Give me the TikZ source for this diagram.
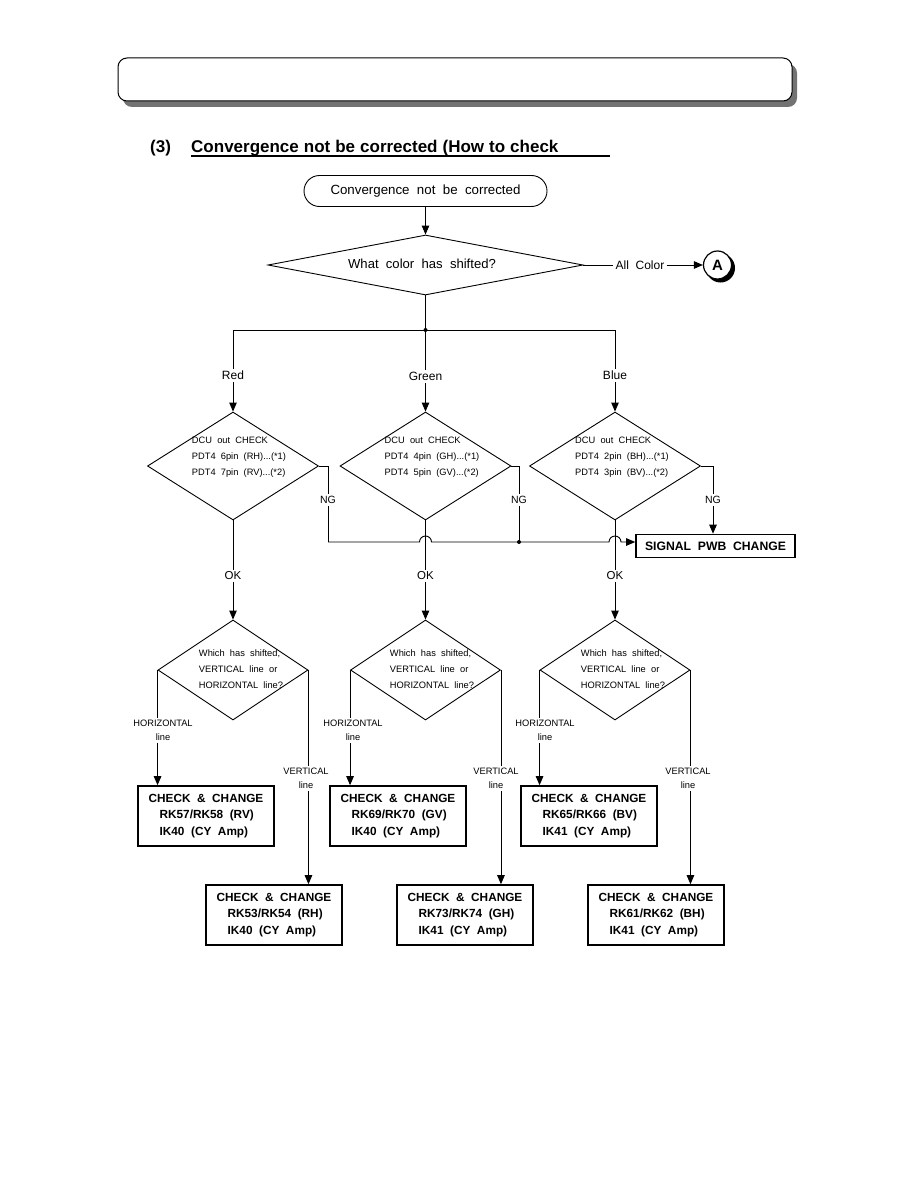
\documentclass[tikz,border=0pt]{standalone}
\usepackage{fontspec}
\setmainfont{Liberation Sans}[WordSpace=2]
\usetikzlibrary{arrows.meta,shapes.geometric}
\begin{document}
\begin{tikzpicture}[x=1pt,y=-1pt,
  ln/.style={line width=0.9pt},
  arr/.style={ln,-{Triangle[length=9pt,width=7.5pt]}},
  dia/.style={diamond,draw,ln,inner sep=0pt},
  dtext/.style={font=\fontsize{9.3}{16}\selectfont,align=left,inner sep=0pt},
  lbl/.style={font=\fontsize{12}{14}\selectfont,inner sep=2pt},
  nglbl/.style={font=\fontsize{10.5}{12}\selectfont,inner sep=2pt},
  oklbl/.style={font=\fontsize{11.5}{12}\selectfont,inner sep=2pt},
  sl/.style={font=\fontsize{9.3}{14}\selectfont,align=center,inner sep=2pt},
  chk/.style={draw,line width=1.6pt,minimum width=136pt,minimum height=60pt,
    font=\fontsize{11.8}{16.5}\selectfont\bfseries,align=left,inner sep=0pt}]
\useasboundingbox (0,0) rectangle (918,1188);
\fill[white] (0,0) rectangle (918,1188);

% header
\fill[black!55,rounded corners=9] (123,64) rectangle (797,107);
\draw[fill=white,line width=1pt,rounded corners=9] (118,58) rectangle (792,101);

% title
\node[anchor=base west,inner sep=0pt,font=\fontsize{17}{18}\selectfont\bfseries] (tnum) at (150,152) {(3)};
\node[anchor=base west,inner sep=0pt,font=\fontsize{17}{18}\selectfont\bfseries] (title) at (191,152) {\spaceskip 5pt\relax Convergence not be corrected (How to check};
\coordinate (ul1) at (191,156);
\coordinate (ul2) at (610,156);
\draw[line width=1.1pt] (ul1) -- (ul2);

% start
\node[draw,ln,rounded corners=15.5,minimum width=243,minimum height=31,inner sep=0pt,
  font=\fontsize{13.3}{16}\selectfont] (term) at (425.5,191) {Convergence not be corrected};
\node[dia,minimum width=315,minimum height=60] (q) at (425.5,265) {};
\node[font=\fontsize{13.1}{16}\selectfont,inner sep=0pt] (qt) at (422,264) {What color has shifted?};
\draw[arr] (term) -- (q);
\node[lbl] (all) at (640,265) {All Color};
\fill (720.5,268) circle (14.5);
\node[circle,draw,line width=1.2pt,fill=white,minimum size=28,inner sep=0pt,
  font=\fontsize{15}{16}\selectfont\bfseries] (A) at (717.5,265) {A};
\draw[ln] (q.east) -- (all.west);
\draw[arr] (all.east) -- (A.west);

% branch
\coordinate (j) at (425.5,330);
\node[lbl] (red) at (233,375.5) {Red};
\node[lbl] (green) at (425.5,376.5) {Green};
\node[lbl] (blue) at (615,375.5) {Blue};
\draw[ln] (q.south) -- (j);
\draw[ln] (j) -| (red.north);
\draw[ln] (j) -- (green.north);
\draw[ln] (j) -| (blue.north);
\fill (j) circle (2);

% first diamonds
\node[dia,minimum width=171,minimum height=108] (dr) at (233,466) {};
\node[dia,minimum width=171,minimum height=108] (dg) at (425.5,466) {};
\node[dia,minimum width=171,minimum height=108] (db) at (615,466) {};
\draw[arr] (red) -- (dr.north);
\draw[arr] (green) -- (dg.north);
\draw[arr] (blue) -- (db.north);
\node[dtext] (drt) at (239,457) {DCU out CHECK\\PDT4 6pin (RH)...(*1)\\PDT4 7pin (RV)...(*2)};
\node[dtext] (dgt) at (432,457) {DCU out CHECK\\PDT4 4pin (GH)...(*1)\\PDT4 5pin (GV)...(*2)};
\node[dtext] (dbt) at (622,457) {DCU out CHECK\\PDT4 2pin (BH)...(*1)\\PDT4 3pin (BV)...(*2)};

% NG paths
\node[draw,line width=1.6pt,minimum width=159,minimum height=23,inner sep=0pt,
  font=\fontsize{12.2}{14}\selectfont\bfseries] (sig) at (715.5,546) {SIGNAL PWB CHANGE};
\node[nglbl] (ngr) at (328,500) {NG};
\node[nglbl] (ngg) at (519,500) {NG};
\node[nglbl] (ngb) at (713,500) {NG};
\coordinate (cr) at (328,542);
\coordinate (cg) at (519,542);
\draw[ln] (dr.east) -| (ngr.north);
\draw[ln] (ngr.south) -- (cr);
\draw[ln] (dg.east) -| (ngg.north);
\draw[ln] (ngg.south) -- (cg);
\fill (cg) circle (2);
\draw[ln] (db.east) -| (ngb.north);
\draw[arr] (ngb.south) -- (ngb.south |- sig.north);
\draw[arr] (cr) -- ([xshift=-6pt]dg.south |- cr) arc[start angle=180,end angle=360,radius=6]
  -- ([xshift=-6pt]db.south |- cr) arc[start angle=180,end angle=360,radius=6]
  -- (sig.west |- cr);

% OK
\node[oklbl] (okr) at (233,576) {OK};
\node[oklbl] (okg) at (425.5,576) {OK};
\node[oklbl] (okb) at (615,576) {OK};
\draw[ln] (dr.south) -- (okr);
\draw[ln] (dg.south) -- (okg);
\draw[ln] (db.south) -- (okb);

% second diamonds
\node[dia,minimum width=150,minimum height=100] (dr2) at (233,670) {};
\node[dia,minimum width=150,minimum height=100] (dg2) at (425.5,670) {};
\node[dia,minimum width=150,minimum height=100] (db2) at (615,670) {};
\draw[arr] (okr) -- (dr2.north);
\draw[arr] (okg) -- (dg2.north);
\draw[arr] (okb) -- (db2.north);
\node[dtext] (dr2t) at (241,669) {Which has shifted,\\VERTICAL line or\\HORIZONTAL line?};
\node[dtext] (dg2t) at (432,669) {Which has shifted,\\VERTICAL line or\\HORIZONTAL line?};
\node[dtext] (db2t) at (623,669) {Which has shifted,\\VERTICAL line or\\HORIZONTAL line?};

% labels
\node[sl] (hr) at (163,730) {HORIZONTAL\\line};
\node[sl] (hg) at (353,730) {HORIZONTAL\\line};
\node[sl] (hb) at (545,730) {HORIZONTAL\\line};
\node[sl] (vr) at (306,778.5) {VERTICAL\\line};
\node[sl] (vg) at (496,778.5) {VERTICAL\\line};
\node[sl] (vb) at (688,778.5) {VERTICAL\\line};

% boxes
\node[chk] (b1r) at (206,816) {CHECK \& CHANGE\\\hspace*{11pt}RK57/RK58 (RV)\\\hspace*{11pt}IK40 (CY Amp)};
\node[chk] (b1g) at (398,816) {CHECK \& CHANGE\\\hspace*{11pt}RK69/RK70 (GV)\\\hspace*{11pt}IK40 (CY Amp)};
\node[chk] (b1b) at (589,816) {CHECK \& CHANGE\\\hspace*{11pt}RK65/RK66 (BV)\\\hspace*{11pt}IK41 (CY Amp)};
\node[chk] (b2r) at (274,915) {CHECK \& CHANGE\\\hspace*{11pt}RK53/RK54 (RH)\\\hspace*{11pt}IK40 (CY Amp)};
\node[chk] (b2g) at (465,915) {CHECK \& CHANGE\\\hspace*{11pt}RK73/RK74 (GH)\\\hspace*{11pt}IK41 (CY Amp)};
\node[chk] (b2b) at (656,915) {CHECK \& CHANGE\\\hspace*{11pt}RK61/RK62 (BH)\\\hspace*{11pt}IK41 (CY Amp)};

% horizontal-line branches
\foreach \d/\h/\b in {dr2/hr/b1r,dg2/hg/b1g,db2/hb/b1b}{
  \draw[ln] (\d.west) -- (\d.west |- \h.north);
  \draw[arr] (\d.west |- \h.south) -- (\d.west |- \b.north);
}
% vertical-line branches
\foreach \d/\v/\b in {dr2/vr/b2r,dg2/vg/b2g,db2/vb/b2b}{
  \draw[ln] (\d.east) -- (\d.east |- \v.north);
  \draw[arr] (\d.east |- \v.south) -- (\d.east |- \b.north);
}
\end{tikzpicture}
\end{document}
